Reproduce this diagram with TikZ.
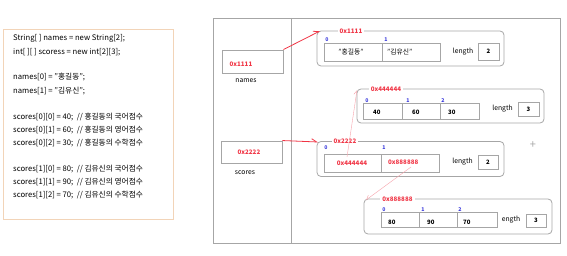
\documentclass[tikz,border=0pt]{standalone}
\usepackage{fontspec}
\setmainfont{Noto Sans CJK KR}
\usetikzlibrary{arrows.meta}
\definecolor{hred}{HTML}{F03444}
\definecolor{hpink}{HTML}{F6A2AA}
\definecolor{hblue}{HTML}{3A3ADC}
\definecolor{hgray}{HTML}{A6A6A6}
\definecolor{hpeach}{HTML}{F2D4B8}
\begin{document}
\begin{tikzpicture}[x=1pt,y=-1pt,
  code/.style={anchor=west,inner sep=0pt,font=\fontsize{7.7}{8}\selectfont},
  refbox/.style={draw=hgray,line width=0.9pt,inner sep=0pt},
  arrbox/.style={draw=hgray,line width=0.8pt,rounded corners=4pt,inner sep=0pt},
  cellbox/.style={draw=hgray,line width=0.8pt,inner sep=0pt},
  addr/.style={text=hred,inner sep=1pt,font=\fontsize{6.2}{7}\selectfont\bfseries},
  title/.style={addr,fill=white,inner xsep=2pt},
  idx/.style={text=hblue,inner sep=0pt,font=\fontsize{5.2}{6}\selectfont\bfseries},
  val/.style={anchor=west,inner sep=0pt,font=\fontsize{6}{7}\selectfont\bfseries},
  lbl/.style={inner sep=0pt,font=\fontsize{6.8}{7}\selectfont},
  bigref/.style={draw=hred,line width=0.8pt,-{Straight Barb[left,length=5pt,width=6pt]}},
  smallref/.style={draw=hpink,line width=0.4pt,-{Straight Barb[left,length=4pt,width=5pt]}},
]
\useasboundingbox (0,0) rectangle (567,256);
% code box
\draw[hpeach,line width=0.6pt] (3,29) rectangle (173,219);
\node[code] (c1) at (13,38) {String[ ] names = new String[2];};
\node[code] (c2) at (13,52) {int[ ][ ] scoress = new int[2][3];};
\node[code] (c3) at (13,77) {names[0] = "홍길동";};
\node[code] (c4) at (13,91) {names[1] = "김유신";};
\node[code] (c5) at (13,117) {scores[0][0] = 40;\ \ // 홍길동의 국어점수};
\node[code] (c6) at (13,130) {scores[0][1] = 60;\ \ // 홍길동의 영어점수};
\node[code] (c7) at (13,143) {scores[0][2] = 30;\ \ // 홍길동의 수학점수};
\node[code] (c8) at (13,169) {scores[1][0] = 80;\ \ // 김유신의 국어점수};
\node[code] (c9) at (13,182) {scores[1][1] = 90;\ \ // 김유신의 영어점수};
\node[code] (c10) at (13,195) {scores[1][2] = 70;\ \ // 김유신의 수학점수};
% memory panel
\draw[hgray,line width=0.8pt] (213,18) rectangle (560,243);
\draw[hgray,line width=0.8pt] (291,18) -- (291,243);
% reference variables
\node[refbox,minimum width=61pt,minimum height=23pt] (names) at (252.5,61.5) {};
\node[addr] (namesaddr) at (241,64) {0x1111};
\node[lbl] (nameslbl) at (246,81) {names};
\node[refbox,minimum width=61pt,minimum height=22pt] (scores) at (251.5,152) {};
\node[addr] (scoresaddr) at (249,152) {0x2222};
\node[lbl] (scoreslbl) at (245,173) {scores};
% array 0x1111
\node[arrbox,minimum width=187pt,minimum height=35pt] (arrA) at (410.5,48.5) {};
\node[title] (titleA) at (351,31) {0x1111};
\node[idx] (iA0) at (327,39.5) {0};
\node[idx] (iA1) at (386,39.5) {1};
\node[cellbox,minimum width=58pt,minimum height=18pt] (cA0) at (353,52) {};
\node[cellbox,minimum width=58pt,minimum height=18pt] (cA1) at (411,52) {};
\node[lbl] (vA0) at (351,52) {"홍길동"};
\node[lbl,anchor=west] (vA1) at (387,52) {"김유신"};
\node[lbl] (lenA) at (463,52) {length};
\node[cellbox,minimum width=21pt,minimum height=17pt] (nA) at (488.5,51.5) {};
\node[val,anchor=center] (nAv) at (488.5,51.5) {2};
% array 0x444444
\node[arrbox,minimum width=187pt,minimum height=34pt] (arrB) at (450.5,106) {};
\node[title] (titleB) at (386,89) {0x444444};
\node[idx] (iB0) at (367,101) {0};
\node[idx] (iB1) at (408,101) {1};
\node[idx] (iB2) at (443,101) {2};
\node[cellbox,minimum width=39pt,minimum height=16pt] (cB0) at (382.5,111) {};
\node[cellbox,minimum width=38pt,minimum height=16pt] (cB1) at (421,111) {};
\node[cellbox,minimum width=39pt,minimum height=16pt] (cB2) at (459.5,111) {};
\node[val] (vB0) at (373,112) {40};
\node[val] (vB1) at (412,112) {60};
\node[val] (vB2) at (448,112) {30};
\node[lbl] (lenB) at (502.5,109) {length};
\node[cellbox,minimum width=21pt,minimum height=14pt] (nB) at (528.5,109.5) {};
\node[val,anchor=center] (nBv) at (528.5,109.5) {3};
% array 0x2222
\node[arrbox,minimum width=187pt,minimum height=35pt] (arrC) at (410.5,159) {};
\node[title] (titleC) at (345,141.5) {0x2222};
\node[idx] (iC0) at (326,148) {0};
\node[idx] (iC1) at (384,147.5) {1};
\node[cellbox,minimum width=57pt,minimum height=18pt] (cC0) at (352.5,163) {};
\node[cellbox,minimum width=58pt,minimum height=18pt] (cC1) at (410,163) {};
\node[addr] (vC0) at (352,163) {0x444444};
\node[addr,anchor=west,inner sep=0pt] (vC1) at (388,162) {0x888888};
\node[lbl] (lenC) at (462.5,162) {length};
\node[cellbox,minimum width=20pt,minimum height=14pt] (nC) at (488,162) {};
\node[val,anchor=center] (nCv) at (488,162) {2};
% array 0x888888
\node[arrbox,minimum width=188pt,minimum height=35pt] (arrD) at (458,216.5) {};
\node[title] (titleD) at (397.5,199) {0x888888};
\node[idx] (iD0) at (384,209.5) {0};
\node[idx] (iD1) at (423,209.5) {1};
\node[idx] (iD2) at (460,209.5) {2};
\node[cellbox,minimum width=38pt,minimum height=15pt] (cD0) at (400,219.5) {};
\node[cellbox,minimum width=38pt,minimum height=15pt] (cD1) at (438,219.5) {};
\node[cellbox,minimum width=40pt,minimum height=15pt] (cD2) at (477,219.5) {};
\node[val] (vD0) at (388,222) {80};
\node[val] (vD1) at (427,222) {90};
\node[val] (vD2) at (463,222) {70};
\node[lbl] (lenD) at (511,220) {ength};
\node[cellbox,minimum width=20pt,minimum height=13pt] (nD) at (536,220.5) {};
\node[val,anchor=center] (nDv) at (536,220.5) {3};
% plus mark
\node[text=hgray,inner sep=0pt,font=\fontsize{11}{11}\selectfont] (plus) at (533,145) {+};
% connectors
\coordinate (tA) at (320,31);
\coordinate (tC) at (318,142);
\coordinate (p3) at (347,157);
\coordinate (tB) at (357,90);
\coordinate (p4) at (411,167);
\coordinate (tD) at (366,200);
\draw[bigref] (names.north east) -- (tA);
\draw[bigref] (scores.north east) -- (tC);
\draw[smallref] (p3) -- (tB);
\draw[smallref,-{Straight Barb[right,length=4pt,width=5pt]}] (p4) -- (tD);
\end{tikzpicture}
\end{document}
